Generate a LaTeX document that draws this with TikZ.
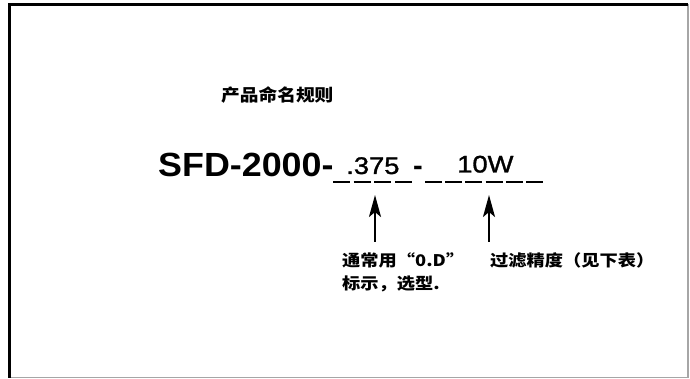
\documentclass[tikz,border=0pt]{standalone}
\usepackage{fontspec}
\setmainfont{Liberation Sans}
\newfontfamily\semibold{Liberation Sans}[FakeBold=1.2]
\newfontfamily\cjk{Noto Sans CJK SC}
\usetikzlibrary{arrows.meta}
\begin{document}
\begin{tikzpicture}[x=1pt,y=-1pt,
  lbl/.style={inner sep=0pt, anchor=base west},
  cjktext/.style={lbl, font=\cjk\bfseries\fontsize{16}{16}\selectfont, xscale=1.14},
  titletext/.style={lbl, font=\cjk\bfseries\fontsize{17}{17}\selectfont, xscale=1.1},
  bigcode/.style={lbl, font=\bfseries\fontsize{33.5}{33.5}\selectfont, xscale=1.07},
  fillcode/.style={lbl, font=\semibold\fontsize{24}{24}\selectfont, xscale=1.14},
  blank/.style={line width=1.4pt, black},
  pointer/.style={line width=2.4pt, -{Stealth[length=22pt,width=12pt,inset=5pt]}},
]
\useasboundingbox (0,0) rectangle (690,379);
\fill[white] (0,0) rectangle (690,379);
% frame
\draw[gray!70, line width=1.2pt] (688,4.5) -- (688,377.5) -- (9.5,377.5);
\draw[black, line width=2.2pt] (9.5,377.5) -- (9.5,4.5) -- (688,4.5);

% title
\node[titletext] (title) at (221,102) {产品命名规则};

% code line
\node[bigcode] (code) at (158,177) {SFD-2000-};
\node[fillcode] (od) at (346,174) {.375};
\node[lbl, font=\bfseries\fontsize{29}{29}\selectfont] (sep) at (413,176) {-};
\node[fillcode] (grade) at (457,172.5) {10W};

% blanks
\draw[blank, dash pattern=on 17pt off 3.7pt] (333,182) -- (412,182);
\draw[blank, dash pattern=on 17pt off 3.2pt] (425,182) -- (543,182);

% arrows
\coordinate (odtip) at (375,195);
\coordinate (odtail) at (375,242);
\coordinate (gradetip) at (489,195);
\coordinate (gradetail) at (489,242);
\draw[pointer] (odtail) -- (odtip);
\draw[pointer] (gradetail) -- (gradetip);

% notes
\node[cjktext] (note1) at (342,266.5) {通常用“0.D”};
\node[cjktext] (note2) at (342,289.5) {标示，选型.};
\node[cjktext] (note3) at (490,266.5) {过滤精度（见下表）};
\end{tikzpicture}
\end{document}
